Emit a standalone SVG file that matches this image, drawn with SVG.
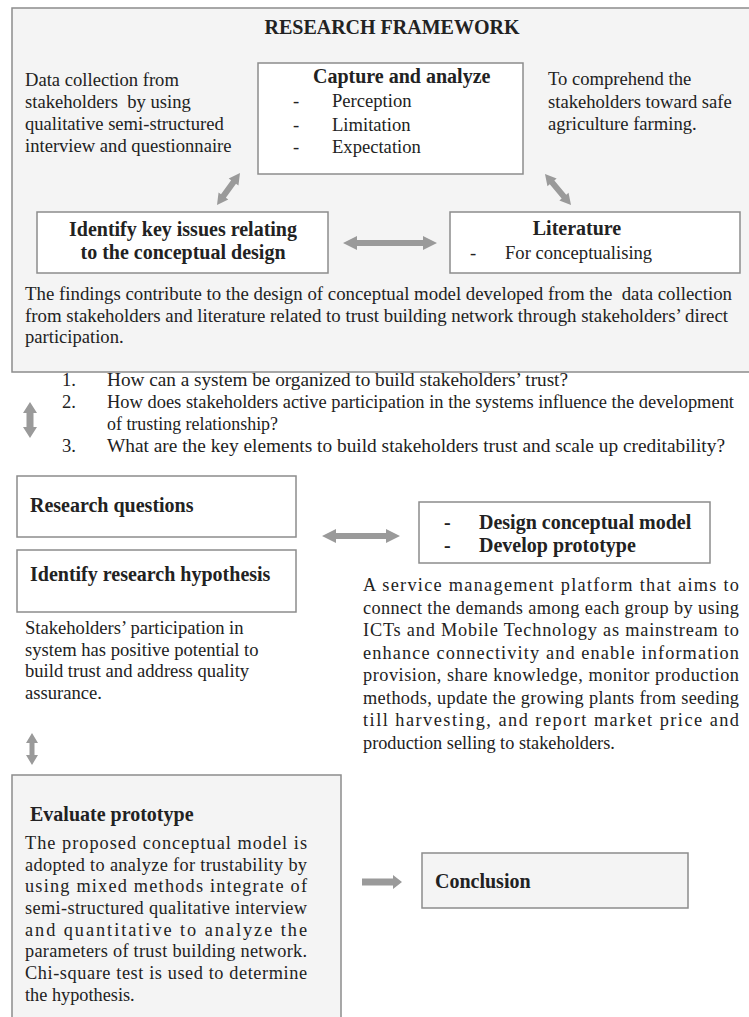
<svg xmlns="http://www.w3.org/2000/svg" width="749" height="1017" viewBox="0 0 749 1017">
<style>
.box{fill:#ffffff;stroke:#8c8c8c;stroke-width:1.5}
.gbox{fill:#f4f4f4;stroke:#8c8c8c;stroke-width:1.5}
text{font-family:"Liberation Serif","Times New Roman",serif;font-size:18.6px;fill:#222}
.j{font-size:18.3px}
.q{font-size:18.6px}
.q2{font-size:18px}
.b{font-weight:bold;font-size:20px}
.arr{fill:#9a9a9a}
</style>
<rect x="0" y="0" width="749" height="1017" fill="#ffffff"/>
<g id="framework">
<rect class="gbox" x="12" y="8" width="760" height="364"/>
<text class="b" x="392" y="34" text-anchor="middle">RESEARCH FRAMEWORK</text>
</g>
<g id="data-collection">
<text x="25" y="86">Data collection from</text>
<text x="25" y="108" xml:space="preserve">stakeholders  by using</text>
<text x="25" y="130">qualitative semi-structured</text>
<text x="25" y="152">interview and questionnaire</text>
</g>
<g id="comprehend">
<text x="548" y="85">To comprehend the</text>
<text x="548" y="108">stakeholders toward safe</text>
<text x="548" y="130">agriculture farming.</text>
</g>
<g id="capture">
<rect class="box" x="258" y="63" width="265" height="111"/>
<text class="b" x="313" y="83">Capture and analyze</text>
<text x="293" y="107">-</text><text x="332" y="107">Perception</text>
<text x="293" y="131">-</text><text x="332" y="131">Limitation</text>
<text x="293" y="153">-</text><text x="332" y="153">Expectation</text>
</g>
<g id="key-issues">
<rect class="box" x="37" y="212" width="291" height="61"/>
<text class="b" x="183" y="236" text-anchor="middle">Identify key issues relating</text>
<text class="b" x="183" y="259" text-anchor="middle">to the conceptual design</text>
</g>
<g id="literature">
<rect class="box" x="450" y="212" width="290" height="61"/>
<text class="b" x="577" y="235" text-anchor="middle">Literature</text>
<text x="470" y="259">-</text><text x="505" y="259">For conceptualising</text>
</g>
<g id="findings">
<text class="q2" x="25" y="300" xml:space="preserve" textLength="707" lengthAdjust="spacingAndGlyphs">The findings contribute to the design of conceptual model developed from the  data collection</text>
<text class="q2" x="25" y="322" textLength="703" lengthAdjust="spacingAndGlyphs">from stakeholders and literature related to trust building network through stakeholders’ direct</text>
<text x="25" y="343">participation.</text>
</g>
<g id="questions-list">
<text class="q" x="62" y="386">1.</text><text class="q" x="107" y="386" textLength="461" lengthAdjust="spacingAndGlyphs">How can a system be organized to build stakeholders’ trust?</text>
<text class="q" x="62" y="408">2.</text><text class="q2" x="107" y="408" textLength="627" lengthAdjust="spacingAndGlyphs">How does stakeholders active participation in the systems influence the development</text>
<text class="q" x="107" y="430" textLength="171" lengthAdjust="spacingAndGlyphs">of trusting relationship?</text>
<text class="q" x="62" y="452">3.</text><text class="q2" x="107" y="452" textLength="618" lengthAdjust="spacingAndGlyphs">What are the key elements to build stakeholders trust and scale up creditability?</text>
</g>
<g id="research-questions">
<rect class="box" x="17" y="476" width="279" height="61"/>
<text class="b" x="30" y="512">Research questions</text>
</g>
<g id="hypothesis">
<rect class="box" x="17" y="550" width="279" height="62"/>
<text class="b" x="30" y="581">Identify research hypothesis</text>
</g>
<g id="hypothesis-text">
<text x="25" y="634">Stakeholders’ participation in</text>
<text x="25" y="656">system has positive potential to</text>
<text x="25" y="677">build trust and address quality</text>
<text x="25" y="699">assurance.</text>
</g>
<g id="design">
<rect class="box" x="419" y="502" width="291" height="61"/>
<text class="b" x="444" y="529">-</text><text class="b" x="479" y="529">Design conceptual model</text>
<text class="b" x="444" y="552">-</text><text class="b" x="479" y="552">Develop prototype</text>
</g>
<g id="platform-text">
<text class="j" x="363" y="591" textLength="376" lengthAdjust="spacing">A service management platform that aims to</text>
<text class="j" x="363" y="613.5" textLength="376" lengthAdjust="spacing">connect the demands among each group by using</text>
<text class="j" x="363" y="636" textLength="376" lengthAdjust="spacing">ICTs and Mobile Technology as mainstream to</text>
<text class="j" x="363" y="658.5" textLength="376" lengthAdjust="spacing">enhance connectivity and enable information</text>
<text class="j" x="363" y="681" textLength="376" lengthAdjust="spacing">provision, share knowledge, monitor production</text>
<text class="j" x="363" y="703.5" textLength="376" lengthAdjust="spacing">methods, update the growing plants from seeding</text>
<text class="j" x="363" y="726" textLength="376" lengthAdjust="spacing">till harvesting, and report market price and</text>
<text class="j" x="363" y="748.5">production selling to stakeholders.</text>
</g>
<g id="evaluate">
<rect class="gbox" x="12" y="775" width="329" height="260"/>
<text class="b" x="30" y="821">Evaluate prototype</text>
<text class="j" x="25" y="849" textLength="282" lengthAdjust="spacing">The proposed conceptual model is</text>
<text class="j" x="25" y="870.7" textLength="282" lengthAdjust="spacing">adopted to analyze for trustability by</text>
<text class="j" x="25" y="892.3" textLength="282" lengthAdjust="spacing">using mixed methods integrate of</text>
<text class="j" x="25" y="914" textLength="282" lengthAdjust="spacing">semi-structured qualitative interview</text>
<text class="j" x="25" y="935.7" textLength="282" lengthAdjust="spacing">and quantitative to analyze the</text>
<text class="j" x="25" y="957.3" textLength="282" lengthAdjust="spacing">parameters of trust building network.</text>
<text class="j" x="25" y="979" textLength="282" lengthAdjust="spacing">Chi-square test is used to determine</text>
<text class="j" x="25" y="1000.7">the hypothesis.</text>
</g>
<g id="conclusion">
<rect class="gbox" x="422" y="853" width="266" height="55"/>
<text class="b" x="435" y="888">Conclusion</text>
</g>
<g id="connectors">
<polygon class="arr" transform="translate(228.5,189) rotate(125.7)" points="-19.7,0 -8.7,-6 -8.7,-3 8.7,-3 8.7,-6 19.7,0 8.7,6 8.7,3 -8.7,3 -8.7,6"/>
<polygon class="arr" transform="translate(558,189.5) rotate(50)" points="-20.25,0 -9.25,-6 -9.25,-3 9.25,-3 9.25,-6 20.25,0 9.25,6 9.25,3 -9.25,3 -9.25,6"/>
<polygon class="arr" points="343,243 357,236 357,240 423,240 423,236 437,243 423,250 423,246 357,246 357,250"/>
<polygon class="arr" points="30,402 37,413 33.5,413 33.5,427 37,427 30,438 23,427 26.5,427 26.5,413 23,413"/>
<polygon class="arr" points="322,536 336,529 336,533 386,533 386,529 400,536 386,543 386,539 336,539 336,543"/>
<polygon class="arr" points="32,733 38,743 34.5,743 34.5,755 38,755 32,765 26,755 29.5,755 29.5,743 26,743"/>
<polygon class="arr" points="362,878.5 393,878.5 393,875 402,882 393,889 393,885.5 362,885.5"/>
</g>
</svg>
